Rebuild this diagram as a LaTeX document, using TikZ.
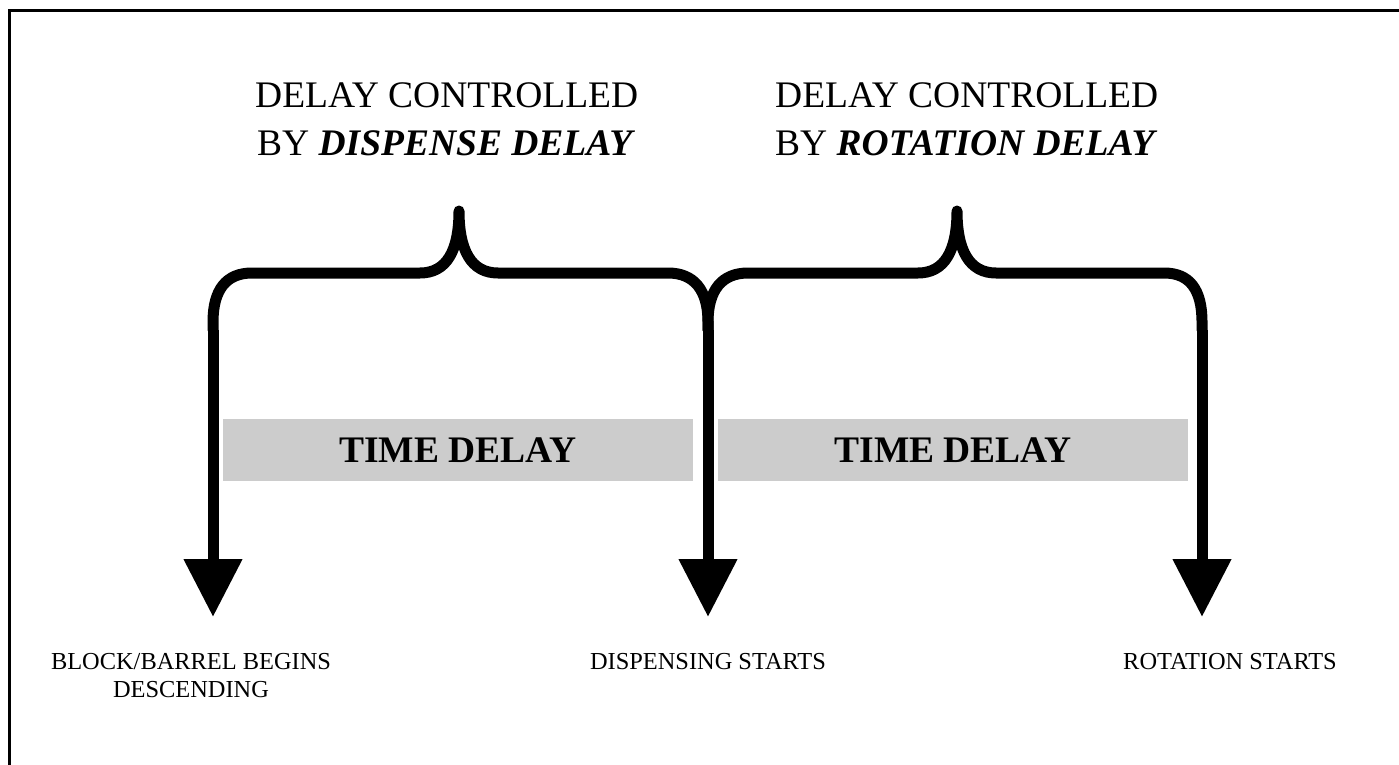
\documentclass[tikz,border=0pt]{standalone}
\usepackage{fontspec}
\setmainfont{Liberation Serif}
\usetikzlibrary{arrows.meta}
\definecolor{boxgray}{HTML}{CCCCCC}
\tikzset{
  brace/.style={line width=11pt, line join=round, line cap=round},
  shaft/.style={line width=11pt, -{Triangle[width=56pt,length=58pt]}},
  toptext/.style={inner sep=0pt, anchor=base west, font=\fontsize{37.5}{45}\selectfont},
  delaybox/.style={fill=boxgray, minimum width=470pt, minimum height=62pt, inner sep=0pt,
    text height=25pt, text depth=0pt, font=\fontsize{37.5}{45}\selectfont\bfseries},
  bottext/.style={inner sep=0pt, anchor=base, font=\fontsize{24.4}{28}\selectfont},
  frameline/.style={line width=3.5pt}
}
\begin{document}
\begin{tikzpicture}[x=1pt,y=-1pt]
\useasboundingbox (0,0) rectangle (1399,765);
% frame (left and top edges)
\coordinate (fbl) at (9.5,765);
\coordinate (ftl) at (9.5,10.5);
\coordinate (ftr) at (1399,10.5);
\draw[frameline] (fbl) -- (ftl) -- (ftr);

% brace end points
\coordinate (a1) at (213,330);
\coordinate (a2) at (708,330);
\coordinate (a3) at (1202,330);
\coordinate (p1) at (459,211);
\coordinate (p2) at (957,211);

% left brace
\draw[brace] (a1) -- (213,322) .. controls (213,290) and (226,273) .. (252,273)
  -- (420,273) .. controls (447,273) and (459,250) .. (p1)
  .. controls (459,250) and (471,273) .. (498,273)
  -- (668,273) .. controls (694,273) and (708,290) .. (708,322) -- (a2);
% right brace
\draw[brace] (a2) -- (708,322) .. controls (708,290) and (722,273) .. (748,273)
  -- (918,273) .. controls (945,273) and (957,250) .. (p2)
  .. controls (957,250) and (969,273) .. (996,273)
  -- (1164,273) .. controls (1190,273) and (1202,290) .. (1202,322) -- (a3);

% arrows
\coordinate (t1) at (213,617);
\coordinate (t2) at (708,617);
\coordinate (t3) at (1202,617);
\draw[shaft] (a1) -- (t1);
\draw[shaft] (a2) -- (t2);
\draw[shaft] (a3) -- (t3);

% top labels
\node[toptext] (l1a) at (255,107) {DELAY CONTROLLED};
\node[toptext] (l1b) at (257,155) {BY \textbf{\textit{DISPENSE DELAY}}};
\node[toptext] (l2a) at (775,107) {DELAY CONTROLLED};
\node[toptext] (l2b) at (775,155) {BY \textbf{\textit{ROTATION DELAY}}};

% time delay boxes
\node[delaybox] (d1) at (458,450) {TIME DELAY};
\node[delaybox] (d2) at (953,450) {TIME DELAY};

% bottom labels
\node[bottext] (b1a) at (191,669) {BLOCK/BARREL BEGINS};
\node[bottext] (b1b) at (191,697) {DESCENDING};
\node[bottext] (b2) at (708,669) {DISPENSING STARTS};
\node[bottext] (b3) at (1230,669) {ROTATION STARTS};
\end{tikzpicture}
\end{document}
